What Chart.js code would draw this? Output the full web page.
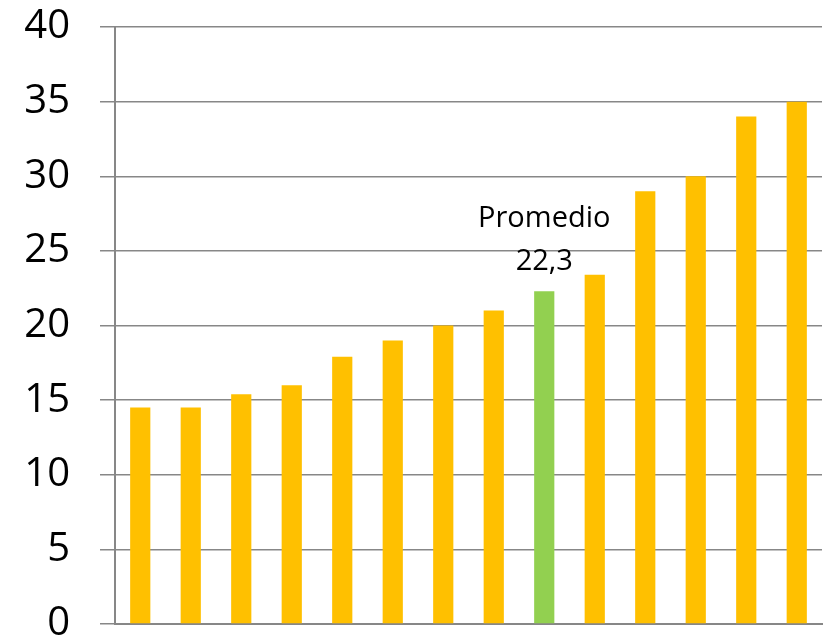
<!DOCTYPE html>
<html>
<head>
<meta charset="utf-8">
<script src="https://cdn.jsdelivr.net/npm/chart.js@4/dist/chart.umd.min.js"></script>
<style>
  html, body { margin: 0; padding: 0; background: #fff; }
  #wrap { width: 825px; height: 639px; }
</style>
</head>
<body>
<div id="wrap"><canvas id="myChart"></canvas></div>
<script>
// valores de cada barra, de menor a mayor
const categorias = ['1','2','3','4','5','6','7','8','9','10','11','12','13','14'];
const valores = [14.5, 14.5, 15.4, 16, 17.9, 19, 20, 21, 22.3, 23.4, 29, 30, 34, 35];
const ticksY = [0, 5, 10, 15, 20, 25, 30, 35, 40];
const idxPromedio = 8;   // barra del promedio (verde)
const textoPromedio = 'Promedio';

const colores = valores.map(function(v, i){
  return i === idxPromedio ? '#92D050' : '#FFC000';
});

// etiqueta encima de la barra del promedio
const etiquetaPromedio = {
  id: 'etiquetaPromedio',
  afterDatasetsDraw: function(chart){
    const ctx = chart.ctx;
    const bar = chart.getDatasetMeta(0).data[idxPromedio];
    const v = valores[idxPromedio];
    ctx.save();
    ctx.fillStyle = '#000';
    ctx.font = '29px "Open Sans"';
    ctx.textAlign = 'center';
    ctx.textBaseline = 'alphabetic';
    ctx.fillText(v.toFixed(1).replace('.', ','), bar.x, bar.y - 21);
    ctx.fillText(textoPromedio, bar.x, bar.y - 64);
    ctx.restore();
  }
};

const config = {
  type: 'bar',
  data: {
    labels: categorias,
    datasets: [{
      data: valores,
      backgroundColor: colores,
      borderWidth: 0,
      barPercentage: 0.4,
      categoryPercentage: 1
    }]
  },
  options: {
    responsive: true,
    maintainAspectRatio: false,
    animation: false,
    layout: { padding: { top: 27, right: 3, left: 0, bottom: 0 } },
    plugins: {
      legend: { display: false },
      tooltip: { enabled: false }
    },
    scales: {
      x: {
        ticks: { display: false },
        grid: { display: false, drawTicks: false },
        border: { display: true, color: '#878787', width: 2 },
        afterFit: function(s){ s.height = 15; }
      },
      y: {
        min: 0,
        max: 40,
        afterBuildTicks: function(s){
          s.ticks = ticksY.map(function(v){ return { value: v }; });
        },
        ticks: {
          color: '#000',
          padding: 30,
          font: { family: 'Open Sans', size: 40 }
        },
        grid: {
          color: '#878787',
          lineWidth: 1.5,
          tickLength: 15
        },
        border: { display: true, color: '#878787', width: 2 },
        // sin relleno extra por las etiquetas de los extremos
        afterFit: function(s){
          s.width = 115;
          s.paddingTop = 0;
          s.paddingBottom = 0;
        }
      }
    }
  },
  plugins: [etiquetaPromedio]
};

const myChart = new Chart(document.getElementById('myChart'), config);
</script>
</body>
</html>
